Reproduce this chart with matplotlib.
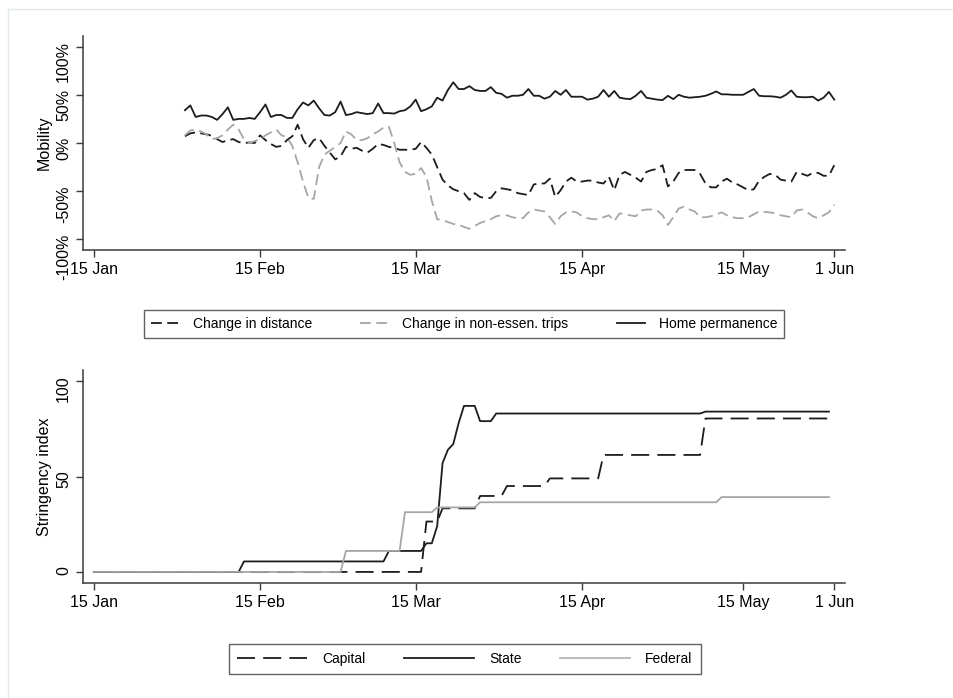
import numpy as np
import matplotlib
matplotlib.use("Agg")
import matplotlib.pyplot as plt
from matplotlib.lines import Line2D

plt.rcParams["font.family"] = ["Liberation Sans", "DejaVu Sans"]

# mobility, daily from 1 Feb 2020 (percent change)
mobility_start = "2020-02-01"
distance = [
    7, 10, 11, 10, 9, 7.5, 4, 1, 3, 4, 1, 0, 0.5, 0, 8, 3, -1, -4, -3, 3,
    7, 19, 4, -5, 3, 5, -3, -10, -17, -14, -4, -6, -5, -8, -10, -6, -1, -2, -4, -5,
    -7, -7, -7, -6, 1, -5, -12, -25, -38, -44, -48, -50, -52, -59, -52, -56, -57, -57, -50, -47,
    -48, -49, -52, -53, -54, -43, -42, -42, -37, -56, -49, -40, -36, -40, -40, -39, -39, -41, -42, -35,
    -49, -33, -30, -33, -36, -40, -30, -28, -27, -23, -45, -40, -31, -28, -28, -28, -32, -42, -46, -46,
    -40, -37, -41, -43, -46, -49, -48, -39, -35, -32, -33, -38, -39, -40, -30, -32, -34, -31, -31, -34,
    -34, -23,
]
nonessential = [
    8, 13, 14, 12, 9, 4, 5, 8, 14, 19, 14, 4, 0, 2, 4, 8, 11, 14, 8, 6,
    -3, -20, -40, -57, -58, -25, -12, -8, -4, 0, 12, 9, 3, 3, 5, 9, 12, 16, 17, 0,
    -20, -30, -33, -32, -26, -35, -60, -79, -80, -82, -84, -85, -87, -89, -86, -83, -81, -79, -76, -75,
    -75, -77, -78, -78, -72, -69, -70, -71, -77, -84, -76, -72, -71, -72, -76, -78, -79, -79, -77, -75,
    -81, -73, -74, -75, -76, -70, -69, -69, -70, -75, -85, -77, -68, -66, -69, -71, -77, -77, -76, -74,
    -72, -75, -77, -78, -78, -77, -74, -71, -71.5, -72, -73, -75, -76, -77, -70, -69, -72, -76, -78, -75,
    -72, -64,
]
home = [
    34, 39, 27, 28.5, 28.5, 27, 24, 30, 37, 24, 25, 25, 26, 25, 32, 40, 27, 29, 29, 26,
    26, 35, 42, 39, 44, 36, 29, 28.5, 32, 43, 29, 30, 32, 31, 30, 31, 41, 31, 31, 30.5,
    33, 34, 38, 45, 33, 35, 38, 47, 44, 55, 63, 56, 56, 59, 55, 54, 54, 58, 52, 51,
    47, 49, 49, 50, 56, 49, 49, 46, 48, 54, 50, 55, 48, 48, 48, 45, 46, 48, 55, 48,
    54, 47, 46, 45.5, 49, 54, 47, 46, 45, 44.5, 49, 45.5, 50, 48, 47, 47.5, 48, 49, 51, 53.5,
    50.5, 50.5, 50, 50, 50, 53, 56, 49, 48.5, 48.5, 48, 47, 50, 54.5, 48, 47.5, 47.5, 48, 44, 47,
    53, 45,
]

# stringency index, values at the days where it changes
capital_dates = ["2020-01-15", "2020-03-16", "2020-03-17", "2020-03-19", "2020-03-20",
                 "2020-03-26", "2020-03-27", "2020-03-31", "2020-04-01", "2020-04-08",
                 "2020-04-09", "2020-04-18", "2020-04-19", "2020-05-07", "2020-05-08",
                 "2020-05-31"]
capital = [0, 0, 26.4, 26.4, 33.3, 33.3, 39.8, 39.8, 45, 45, 49, 49, 61.3, 61.3, 80.4, 80.4]

state_dates = ["2020-01-15", "2020-02-11", "2020-02-12", "2020-03-09", "2020-03-10",
               "2020-03-16", "2020-03-17", "2020-03-18", "2020-03-19", "2020-03-20",
               "2020-03-21", "2020-03-22", "2020-03-23", "2020-03-24", "2020-03-26",
               "2020-03-27", "2020-03-29", "2020-03-30", "2020-05-07", "2020-05-08",
               "2020-05-31"]
state = [0, 0, 5.5, 5.5, 11, 11, 15, 15, 24, 57, 64, 67, 78, 87, 87, 79, 79, 83, 83, 84, 84]

federal_dates = ["2020-01-15", "2020-03-01", "2020-03-02", "2020-03-12", "2020-03-13",
                 "2020-03-18", "2020-03-19", "2020-03-26", "2020-03-27", "2020-05-10",
                 "2020-05-11", "2020-05-31"]
federal = [0, 0, 11, 11, 31.3, 31.3, 33.8, 33.8, 36.5, 36.5, 39.2, 39.2]

tick_dates = ["2020-01-15", "2020-02-15", "2020-03-15", "2020-04-15", "2020-05-15", "2020-06-01"]
tick_labels = ["15 Jan", "15 Feb", "15 Mar", "15 Apr", "15 May", "1 Jun"]
mob_ticks = [-100, -50, 0, 50, 100]
mob_labels = ["-100%", "-50%", "0%", "50%", "100%"]
str_ticks = [0, 50, 100]

dark = "#1c1c1c"
grey = "#a6a6a6"
axcol = "#3a3a3a"
top_dash = (0, (6, 3))
bot_dash = (0, (10, 4.5))


def style_axis(ax):
    for s in ["top", "right"]:
        ax.spines[s].set_visible(False)
    for s in ["left", "bottom"]:
        ax.spines[s].set_color(axcol)
        ax.spines[s].set_linewidth(1.1)
    ax.tick_params(direction="out", length=5, width=1.0, color=axcol,
                   labelsize=11.5, labelcolor="black")
    ax.tick_params(axis="y", labelrotation=90)
    ax.set_xticks(np.array(tick_dates, dtype="datetime64[D]"))
    ax.set_xticklabels(tick_labels)
    ax.set_xlim(np.datetime64("2020-01-13"), np.datetime64("2020-06-03"))


fig = plt.figure(figsize=(9.54, 6.98), dpi=100)

# faint frame
fig.add_artist(Line2D([8 / 954, 1], [1 - 9 / 698, 1 - 9 / 698], color="#e3e9e9", lw=1))
fig.add_artist(Line2D([8 / 954, 8 / 954], [0, 1 - 9 / 698], color="#e3e9e9", lw=1))

ax1 = fig.add_axes([83 / 954, 1 - 250 / 698, 762 / 954, 214 / 698])
mob_dates = np.datetime64(mobility_start) + np.arange(len(home))
ax1.plot(mob_dates, distance, color=dark, lw=1.3, linestyle=top_dash)
ax1.plot(mob_dates, nonessential, color=grey, lw=1.3, linestyle=top_dash)
ax1.plot(mob_dates, home, color=dark, lw=1.3)
style_axis(ax1)
ax1.set_ylim(-111, 111)
ax1.set_yticks(mob_ticks)
ax1.set_yticklabels(mob_labels)
ax1.set_ylabel("Mobility", fontsize=11.5, labelpad=3)

ax2 = fig.add_axes([83 / 954, 1 - 583 / 698, 762 / 954, 213 / 698])
ax2.plot(np.array(capital_dates, dtype="datetime64[D]"), capital, color=dark, lw=1.3,
         linestyle=bot_dash)
ax2.plot(np.array(state_dates, dtype="datetime64[D]"), state, color=dark, lw=1.3)
ax2.plot(np.array(federal_dates, dtype="datetime64[D]"), federal, color=grey, lw=1.3)
style_axis(ax2)
ax2.set_ylim(-5.8, 105.8)
ax2.set_yticks(str_ticks)
ax2.set_ylabel("Stringency index", fontsize=11.5, labelpad=3)

h1 = [
    Line2D([], [], color=dark, lw=1.3, linestyle=top_dash),
    Line2D([], [], color=grey, lw=1.3, linestyle=top_dash),
    Line2D([], [], color=dark, lw=1.3),
]
leg1 = fig.legend(h1, ["Change in distance", "Change in non-essen. trips", "Home permanence"],
                  loc="center", bbox_to_anchor=(464 / 954, 1 - 324 / 698), ncol=3,
                  fontsize=10, frameon=True, fancybox=False, handlelength=2.0,
                  handletextpad=1.0, columnspacing=3.5, borderpad=0.5)
leg1.get_frame().set_edgecolor(axcol)
leg1.get_frame().set_linewidth(1.0)

h2 = [
    Line2D([], [], color=dark, lw=1.3, linestyle=bot_dash),
    Line2D([], [], color=dark, lw=1.3),
    Line2D([], [], color="#b5b5b5", lw=1.3),
]
leg2 = fig.legend(h2, ["Capital", "State", "Federal"], loc="center",
                  bbox_to_anchor=(465 / 954, 1 - 659 / 698), ncol=3, fontsize=10,
                  frameon=True, fancybox=False, handlelength=5.0, handletextpad=1.1,
                  columnspacing=2.8, borderpad=0.6)
leg2.get_frame().set_edgecolor(axcol)
leg2.get_frame().set_linewidth(1.0)

fig.savefig("out.png", dpi=100)
